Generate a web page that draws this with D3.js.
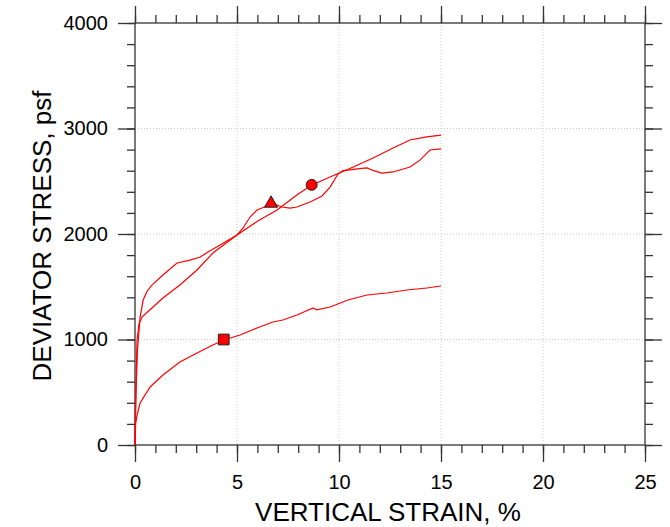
<!DOCTYPE html>
<html>
<head>
<meta charset="utf-8">
<script src="https://cdn.jsdelivr.net/npm/d3@7"></script>
<style>
  body { margin: 0; background: #fff; }
  svg { display: block; font-family: "Liberation Sans", Arial, sans-serif; }
  .tick text { font-size: 20px; fill: #000; }
  .grid line { stroke: #c8c8c8; stroke-dasharray: 1,2; }
</style>
</head>
<body>
<script>
// data (strain %, deviator stress psf)
var curveA = [[0,0],[0.05,500],[0.12,900],[0.25,1213],[0.4,1374],[0.6,1460],[0.83,1516],[1.37,1611],
  [2.06,1725],[2.7,1753],[3.2,1782],[3.58,1829],[4.17,1896],[5.0,1991],[5.3,2057],[5.64,2161],
  [5.98,2227],[6.47,2265],[6.67,2290],[6.96,2275],[7.2,2256],[7.6,2246],[7.94,2256],[8.58,2303],
  [9.17,2360],[9.56,2445],[9.95,2569],[10.2,2600],[10.54,2607],[11.0,2620],[11.37,2626],[11.7,2600],
  [12.1,2578],[12.65,2588],[13.48,2635],[13.97,2700],[14.46,2796],[15.0,2806]];
var curveB = [[0,0],[0.03,400],[0.1,995],[0.2,1150],[0.34,1213],[0.83,1299],[1.37,1393],[2.2,1516],
  [3.04,1659],[3.82,1820],[5.0,1991],[6.0,2120],[6.96,2227],[8.0,2380],[8.68,2464],[9.56,2540],
  [10.7,2635],[11.67,2720],[12.65,2815],[13.48,2891],[14.3,2920],[15.0,2938]];
var curveC = [[0,0],[0.03,200],[0.1,280],[0.25,398],[0.74,550],[1.37,663],[2.2,787],[3.04,872],
  [3.82,948],[4.36,995],[5.15,1043],[5.98,1109],[6.76,1166],[7.25,1185],[7.94,1232],[8.73,1299],
  [8.9,1280],[9.56,1308],[10.44,1374],[11.37,1422],[12.35,1441],[13.33,1469],[14.3,1488],[15.0,1507]];
// failure markers
var markers = [
  {shape: "triangle", x: 6.67, y: 2290},
  {shape: "circle",   x: 8.66, y: 2466},
  {shape: "square",   x: 4.35, y: 1000}
];
var xMajor = [0,5,10,15,20,25],
    xMinor = d3.range(0, 26, 1),
    yMajor = [0,1000,2000,3000,4000],
    yMinor = d3.range(0, 4001, 200);

// layout
var margin = {top: 23, right: 25, bottom: 82, left: 135},
    width = 670 - margin.left - margin.right,
    height = 527 - margin.top - margin.bottom;

var x = d3.scaleLinear().domain([0, 25]).range([0, width]),
    y = d3.scaleLinear().domain([0, 4000]).range([height, 0]);

var svg = d3.select("body").append("svg")
    .attr("width", 670).attr("height", 527)
  .append("g")
    .attr("transform", "translate(" + margin.left + "," + margin.top + ")");

// gridlines
svg.append("g").attr("class", "grid")
   .selectAll("line").data(xMajor.slice(1, -1)).enter().append("line")
   .attr("x1", d => x(d)).attr("x2", d => x(d)).attr("y1", 0).attr("y2", height);
svg.append("g").attr("class", "grid")
   .selectAll("line").data(yMajor.slice(1, -1)).enter().append("line")
   .attr("y1", d => y(d)).attr("y2", d => y(d)).attr("x1", 0).attr("x2", width);

// axes: minor + major ticks on all four sides, labels only bottom/left
function styleAxis(g) {
  g.select(".domain").remove();
  g.selectAll(".tick line").attr("stroke", "#333").attr("stroke-width", 1.3);
}
svg.append("g").attr("transform", "translate(0," + height + ")")
   .call(d3.axisBottom(x).tickValues(xMinor).tickSize(8).tickFormat("")).call(styleAxis);
svg.append("g").attr("transform", "translate(0," + height + ")")
   .call(d3.axisBottom(x).tickValues(xMajor).tickSize(17).tickPadding(13)).call(styleAxis);
svg.append("g")
   .call(d3.axisTop(x).tickValues(xMinor).tickSize(8).tickFormat("")).call(styleAxis);
svg.append("g")
   .call(d3.axisTop(x).tickValues(xMajor).tickSize(17).tickFormat("")).call(styleAxis);
svg.append("g")
   .call(d3.axisLeft(y).tickValues(yMinor).tickSize(8).tickFormat("")).call(styleAxis);
svg.append("g")
   .call(d3.axisLeft(y).tickValues(yMajor).tickSize(17).tickPadding(10).tickFormat(d3.format("d"))).call(styleAxis);
svg.append("g").attr("transform", "translate(" + width + ",0)")
   .call(d3.axisRight(y).tickValues(yMinor).tickSize(8).tickFormat("")).call(styleAxis);
svg.append("g").attr("transform", "translate(" + width + ",0)")
   .call(d3.axisRight(y).tickValues(yMajor).tickSize(17).tickFormat("")).call(styleAxis);

// frame
svg.append("rect").attr("width", width).attr("height", height)
   .attr("fill", "none").attr("stroke", "#333").attr("stroke-width", 1.3);

// curves
var line = d3.line().x(d => x(d[0])).y(d => y(d[1]));
[curveA, curveB, curveC].forEach(function(c) {
  svg.append("path").datum(c).attr("d", line)
     .attr("fill", "none").attr("stroke", "#ff0000").attr("stroke-width", 1.2);
});

// markers
var sym = {triangle: d3.symbolTriangle, circle: d3.symbolCircle, square: d3.symbolSquare};
var size = {triangle: 75, circle: 95, square: 115};
svg.selectAll(".marker").data(markers).enter().append("path")
   .attr("class", "marker")
   .attr("transform", d => "translate(" + x(d.x) + "," + y(d.y) + ")")
   .attr("d", d => d3.symbol().type(sym[d.shape]).size(size[d.shape])())
   .attr("fill", "#ff0000").attr("stroke", "#222").attr("stroke-width", 1);

// axis titles
svg.append("text")
   .attr("x", width / 2 - 2).attr("y", 521 - margin.top)
   .attr("text-anchor", "middle").style("font-size", "26px")
   .text("VERTICAL STRAIN, %");
svg.append("text")
   .attr("transform", "translate(" + (51 - margin.left) + "," + (height / 2 + 2) + ") rotate(-90)")
   .attr("text-anchor", "middle").style("font-size", "26px")
   .text("DEVIATOR STRESS, psf");
</script>
</body>
</html>
